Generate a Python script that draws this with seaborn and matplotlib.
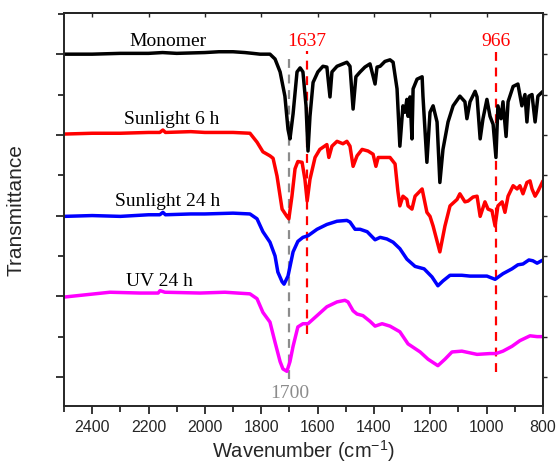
import numpy as np
import pandas as pd
import seaborn as sns
import matplotlib.pyplot as plt
from matplotlib.ticker import MultipleLocator

# spectra (wavenumber, transmittance in offset a.u.)
mono_w = [2500, 2400, 2300, 2200, 2150, 2100, 2000, 1950, 1900, 1858, 1830, 1804, 1769, 1751,
          1733, 1716, 1705, 1698, 1687, 1673, 1662, 1652, 1641, 1634, 1627, 1616, 1599, 1581,
          1567, 1556, 1549, 1531, 1496, 1485, 1474, 1464, 1449, 1432, 1414, 1396, 1389, 1378,
          1361, 1343, 1332, 1318, 1308, 1297, 1290, 1283, 1279, 1272, 1265, 1261, 1247, 1229,
          1226, 1212, 1201, 1190, 1176, 1166, 1155, 1137, 1119, 1095, 1077, 1070, 1059, 1041,
          1034, 1023, 1013, 999, 988, 977, 967, 960, 949, 942, 931, 924, 906, 889, 875, 864,
          857, 850, 839, 828, 818, 800]
mono_t = [50.0, 50.0, 50.1, 50.1, 50.2, 50.1, 50.2, 50.3, 50.3, 50.2, 50.1, 50.0, 50.0, 49.4,
          47.8, 44.8, 40.7, 39.5, 42.6, 47.8, 48.3, 47.8, 43.6, 38.0, 42.3, 46.5, 47.8, 48.5,
          48.4, 44.7, 47.8, 48.5, 49.0, 48.5, 43.2, 47.2, 47.8, 48.4, 48.8, 46.3, 48.4, 48.5,
          49.1, 49.3, 49.0, 45.7, 38.6, 43.6, 42.8, 44.4, 42.3, 44.7, 39.5, 45.7, 46.9, 47.2,
          44.8, 36.6, 42.8, 43.6, 41.6, 34.1, 38.2, 41.6, 43.6, 44.8, 44.1, 42.0, 44.1, 45.4,
          44.7, 39.5, 42.0, 44.4, 42.3, 41.3, 37.2, 43.6, 42.0, 44.1, 39.8, 44.1, 46.0, 46.3,
          43.6, 45.0, 41.6, 44.8, 45.0, 41.6, 44.8, 45.4]

sun6_w = [2500, 2400, 2300, 2200, 2160, 2149, 2140, 2050, 2000, 1900, 1840, 1815, 1794, 1769,
          1758, 1744, 1726, 1709, 1702, 1691, 1680, 1670, 1655, 1645, 1637, 1627, 1609, 1592,
          1567, 1560, 1549, 1531, 1510, 1496, 1485, 1474, 1460, 1442, 1421, 1403, 1393, 1385,
          1368, 1343, 1325, 1315, 1308, 1297, 1283, 1279, 1265, 1254, 1229, 1212, 1201, 1190,
          1166, 1148, 1130, 1105, 1095, 1077, 1066, 1048, 1034, 1023, 1006, 995, 981, 970,
          960, 945, 935, 924, 906, 892, 882, 871, 857, 846, 839, 828, 818, 800]
sun6_t = [40.1, 40.2, 40.2, 40.3, 40.3, 40.6, 40.3, 40.4, 40.3, 40.3, 40.2, 39.1, 37.9, 37.4,
          37.1, 34.9, 30.8, 29.9, 29.6, 32.4, 35.8, 36.7, 36.6, 34.5, 31.8, 34.5, 37.2, 38.2,
          38.8, 37.2, 38.6, 39.2, 38.9, 39.2, 38.6, 36.1, 37.4, 38.2, 38.0, 37.6, 36.1, 37.2,
          37.2, 37.2, 36.4, 33.0, 31.2, 32.4, 32.0, 31.2, 30.8, 32.4, 33.3, 30.4, 29.9, 28.7,
          25.5, 28.7, 31.2, 32.0, 32.7, 31.7, 31.8, 32.3, 32.4, 29.9, 31.7, 30.8, 30.6, 28.7,
          31.2, 31.7, 30.4, 32.4, 33.7, 33.3, 33.7, 32.7, 34.1, 34.3, 33.3, 32.4, 33.0, 34.3]

sun24_w = [2500, 2400, 2300, 2200, 2160, 2149, 2140, 2050, 2000, 1900, 1840, 1815, 1794, 1769,
           1751, 1741, 1726, 1719, 1705, 1687, 1670, 1652, 1634, 1602, 1567, 1531, 1496, 1485,
           1467, 1449, 1424, 1396, 1378, 1354, 1332, 1308, 1283, 1254, 1222, 1194, 1173, 1155,
           1130, 1088, 1059, 999, 970, 942, 910, 889, 871, 850, 836, 821, 800]
sun24_t = [29.9, 30.0, 29.9, 30.1, 30.1, 30.4, 30.1, 30.2, 30.2, 30.3, 30.2, 29.6, 28.0, 26.7,
           25.0, 23.0, 21.8, 21.5, 22.5, 25.5, 26.8, 27.3, 27.5, 28.3, 28.9, 29.3, 29.4, 29.2,
           28.3, 28.3, 28.0, 27.0, 27.3, 27.1, 26.7, 25.9, 24.6, 23.7, 23.4, 22.4, 21.3, 21.9,
           22.6, 22.6, 22.5, 22.5, 22.1, 22.8, 23.4, 23.9, 24.0, 24.5, 24.4, 24.1, 24.5]

uv24_w = [2500, 2337, 2230, 2166, 2159, 2142, 2017, 1929, 1840, 1815, 1794, 1769, 1751, 1733,
          1723, 1709, 1698, 1687, 1670, 1652, 1634, 1602, 1567, 1531, 1503, 1492, 1474, 1460,
          1439, 1414, 1396, 1371, 1343, 1308, 1279, 1236, 1208, 1173, 1148, 1123, 1088, 1034,
          988, 967, 942, 910, 882, 846, 821, 800]
uv24_t = [19.9, 20.5, 20.4, 20.4, 20.7, 20.5, 20.4, 20.5, 20.3, 19.7, 18.0, 16.8, 14.3, 11.9,
          11.0, 10.7, 11.9, 13.8, 16.2, 16.6, 16.6, 17.6, 18.7, 19.3, 19.5, 19.3, 18.2, 17.8,
          17.6, 16.9, 16.3, 16.6, 16.3, 15.6, 14.1, 13.1, 12.2, 11.4, 12.2, 13.1, 13.2, 12.8,
          12.9, 12.9, 13.2, 13.8, 14.5, 15.1, 15.0, 15.0]

names = ['Monomer', 'Sunlight 6 h', 'Sunlight 24 h', 'UV 24 h']
colours = ['#000000', '#ff0000', '#0000ff', '#ff00ff']
label_pos = [(2131, 51.7), (2117, 42.0), (2131, 31.9), (2163, 22.0)]

marks = [1700, 1637, 966]
mark_colours = ['#8c8c8c', '#ff0000', '#ff0000']
mark_spans = [(9.8, 49.8), (15.3, 50.4), (10.6, 50.4)]

frames = []
for name, w, t in zip(names, [mono_w, sun6_w, sun24_w, uv24_w], [mono_t, sun6_t, sun24_t, uv24_t]):
    frames.append(pd.DataFrame({'wavenumber': w, 'T': t, 'sample': name}))
df = pd.concat(frames, ignore_index=True)

sns.set_style('ticks')
plt.rcParams['font.family'] = ['Liberation Sans', 'DejaVu Sans']
plt.rcParams['mathtext.fontset'] = 'custom'
plt.rcParams['mathtext.rm'] = 'Liberation Sans'

fig = plt.figure(figsize=(5.58, 4.64), dpi=100)
ax = fig.add_axes([0.1147, 0.1228, 0.8584, 0.847])

sns.lineplot(ax=ax, data=df, x='wavenumber', y='T', hue='sample', hue_order=names,
             palette=colours, sort=False, estimator=None, linewidth=2.5, legend=False)

for m, c, (y0, y1) in zip(marks, mark_colours, mark_spans):
    ax.plot([m, m], [y0, y1], color=c, linestyle=(0, (4, 3)), linewidth=1.6, zorder=1)

ax.text(1637, 51.7, '1637', color='#ff0000', family='Liberation Serif', fontsize=14,
        ha='center', va='center')
ax.text(966, 51.7, '966', color='#ff0000', family='Liberation Serif', fontsize=14,
        ha='center', va='center')
ax.text(1700, 8.1, '1700', color='#8c8c8c', family='Liberation Serif', fontsize=14,
        ha='center', va='center')

for name, (lx, ly) in zip(names, label_pos):
    ax.text(lx, ly, name, color='black', family='Liberation Serif', fontsize=14,
            ha='center', va='center')

ax.set_xlim(2500, 800)
ax.set_ylim(6.4, 55.1)
ax.xaxis.set_major_locator(MultipleLocator(200))
ax.xaxis.set_minor_locator(MultipleLocator(100))
ax.yaxis.set_major_locator(MultipleLocator(10))
ax.yaxis.set_minor_locator(MultipleLocator(5))
ax.tick_params(axis='both', which='major', direction='out', length=6, width=1.3, labelsize=11.5)
ax.tick_params(axis='both', which='minor', direction='out', length=4, width=1.3)
ax.tick_params(axis='y', which='both', labelleft=False)

ax_top = ax.secondary_xaxis('top')
ax_top.xaxis.set_major_locator(MultipleLocator(200))
ax_top.tick_params(direction='in', length=3, width=1.0, labeltop=False)
ax_right = ax.secondary_yaxis('right')
ax_right.yaxis.set_major_locator(MultipleLocator(5))
ax_right.tick_params(direction='out', length=3, width=1.0, labelright=False)

for s in ax.spines.values():
    s.set_linewidth(1.4)
for s in list(ax_top.spines.values()) + list(ax_right.spines.values()):
    s.set_linewidth(1.4)

ax.set_xlabel('Wavenumber (cm$^{-1}$)', fontsize=14.5, labelpad=2)
ax.set_ylabel('Transmittance', fontsize=15, labelpad=22)

fig.savefig('out.png', dpi=100)
